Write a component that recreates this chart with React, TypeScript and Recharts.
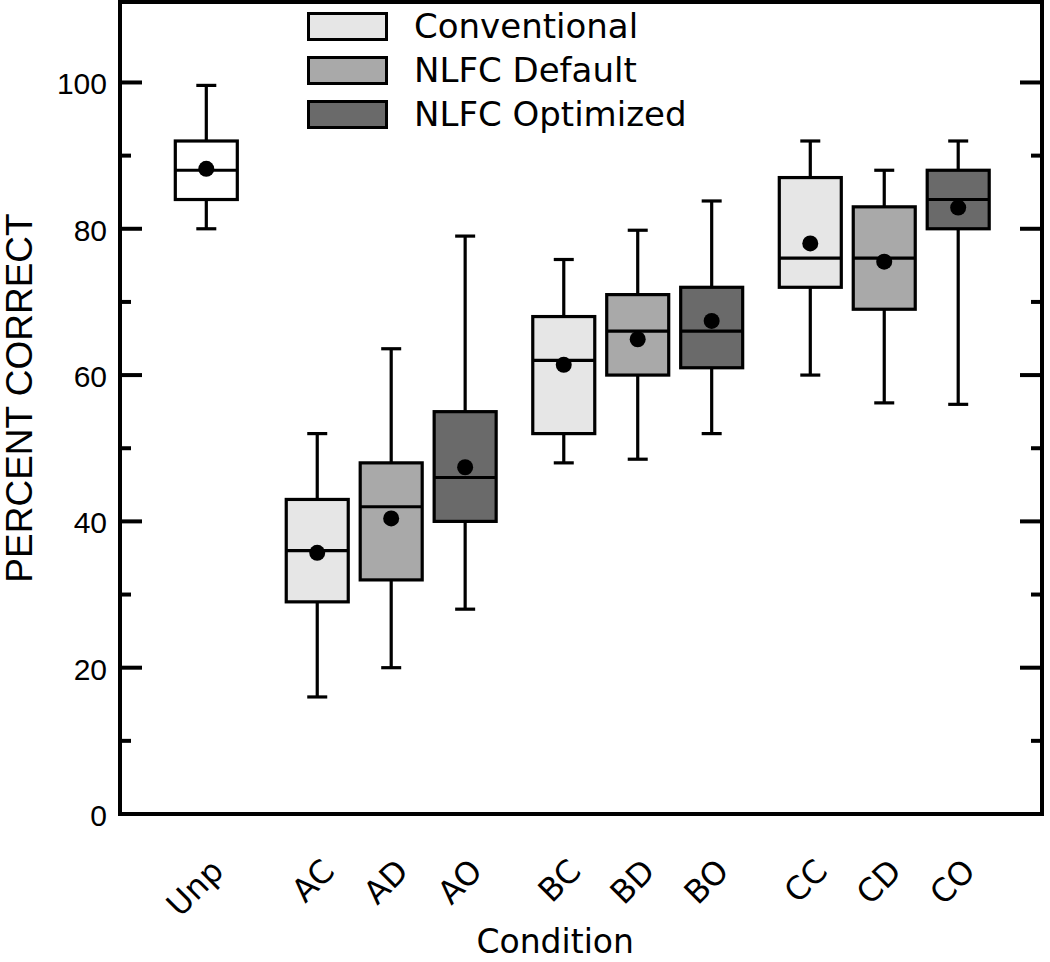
import React from "react";
import {
  ComposedChart,
  Bar,
  Cell,
  Scatter,
  XAxis,
  YAxis,
  ReferenceArea,
  Legend,
} from "recharts";

// conditions along the x axis, with their slot positions (groups of three, gaps between)
const conditions = ["Unp", "AC", "AD", "AO", "BC", "BD", "BO", "CC", "CD", "CO"];
const positions = [0, 4.5, 7.5, 10.5, 14.5, 17.5, 20.5, 24.5, 27.5, 30.5];
const processing = [
  "Unprocessed",
  "Conventional", "NLFC Default", "NLFC Optimized",
  "Conventional", "NLFC Default", "NLFC Optimized",
  "Conventional", "NLFC Default", "NLFC Optimized",
];

// box plot stats, percent correct
const minVals = [80, 16, 20, 28, 48, 48.5, 52, 60, 56.2, 56];
const q1Vals = [84, 29, 32, 40, 52, 60, 61, 72, 69, 80];
const medianVals = [88, 36, 42, 46, 62, 66, 66, 76, 76, 84];
const q3Vals = [92, 43, 48, 55, 68, 71, 72, 87, 83, 88];
const maxVals = [99.6, 52, 63.6, 79, 75.8, 79.8, 83.8, 92, 88, 92];
const meanVals = [88.2, 35.7, 40.4, 47.4, 61.4, 64.9, 67.4, 78, 75.5, 82.9];

const yTicks = [0, 10, 20, 30, 40, 50, 60, 70, 80, 90, 100];
const legendNames = ["Conventional", "NLFC Default", "NLFC Optimized"];

const fills: Record<string, string> = {
  Unprocessed: "#ffffff",
  Conventional: "#e6e6e6",
  "NLFC Default": "#a9a9a9",
  "NLFC Optimized": "#6a6a6a",
};

const rows = conditions.map((name, i) => ({
  name,
  pos: positions[i],
  group: processing[i],
  min: minVals[i],
  q1: q1Vals[i],
  median: medianVals[i],
  q3: q3Vals[i],
  max: maxVals[i],
  mean: meanVals[i],
  box: [q1Vals[i], q3Vals[i]],
}));

const LABEL_FONT = "'DejaVu Sans', sans-serif";
const NUM_FONT = "'Liberation Sans', Arial, sans-serif";

function BoxShape(props: any) {
  const { x, y, width, height, payload, fill } = props;
  if (!payload) return null;
  const cx = x + width / 2;
  const top = Math.min(y, y + height);
  const h = Math.abs(height);
  const perUnit = h / (payload.q3 - payload.q1);
  const yOf = (v: number) => top + (payload.q3 - v) * perUnit;
  const yMax = yOf(payload.max);
  const yMin = yOf(payload.min);
  const yMed = yOf(payload.median);
  const bw = 62;
  return (
    <g stroke="#000" strokeWidth={3.2}>
      <line x1={cx} x2={cx} y1={yMax} y2={top} />
      <line x1={cx} x2={cx} y1={top + h} y2={yMin} />
      <line x1={cx - 10} x2={cx + 10} y1={yMax} y2={yMax} />
      <line x1={cx - 10} x2={cx + 10} y1={yMin} y2={yMin} />
      <rect x={cx - bw / 2} y={top} width={bw} height={h} fill={fill} />
      <line x1={cx - bw / 2} x2={cx + bw / 2} y1={yMed} y2={yMed} />
    </g>
  );
}

function MeanDot(props: any) {
  const { cx, cy } = props;
  return <circle cx={cx} cy={cy} r={8} fill="#000" />;
}

function LeftTick(props: any) {
  const { x, y, payload } = props;
  const major = payload.value % 20 === 0;
  return (
    <g>
      <line x1={x} x2={x + (major ? 22 : 11)} y1={y} y2={y} stroke="#000" strokeWidth={4} />
      {major && (
        <text x={x - 13} y={y + 12} textAnchor="end" fontFamily={NUM_FONT} fontSize={30} fill="#000">
          {payload.value}
        </text>
      )}
    </g>
  );
}

function RightTick(props: any) {
  const { x, y, payload } = props;
  const major = payload.value % 20 === 0;
  return <line x1={x} x2={x - (major ? 22 : 11)} y1={y} y2={y} stroke="#000" strokeWidth={4} />;
}

function XTick(props: any) {
  const { x, y, payload } = props;
  const idx = positions.indexOf(payload.value);
  const ax = x + 19;
  const ay = y + 59;
  return (
    <text
      x={ax}
      y={ay}
      textAnchor="end"
      transform={`rotate(-45 ${ax} ${ay})`}
      fontFamily={LABEL_FONT}
      fontSize={32}
      fill="#000"
    >
      {conditions[idx]}
    </text>
  );
}

function YLabel(props: any) {
  const vb = props.viewBox || { x: 0, y: 2, width: 120, height: 812 };
  const lx = vb.x + 19;
  const ly = vb.y + vb.height / 2 - 10;
  return (
    <text
      x={lx}
      y={ly}
      transform={`rotate(-90 ${lx} ${ly})`}
      textAnchor="middle"
      dominantBaseline="central"
      fontFamily={NUM_FONT}
      fontSize={37}
      fill="#000"
    >
      PERCENT CORRECT
    </text>
  );
}

function XLabel(props: any) {
  const vb = props.viewBox || { x: 120, y: 814, width: 926, height: 148 };
  const lx = vb.x + vb.width * 0.472;
  const ly = vb.y + vb.height - 9;
  return (
    <text x={lx} y={ly} textAnchor="middle" fontFamily={LABEL_FONT} fontSize={33} fill="#000">
      Condition
    </text>
  );
}

function LegendBox() {
  return (
    <div style={{ fontFamily: LABEL_FONT, fontSize: 34, color: "#000" }}>
      {legendNames.map((n) => (
        <div key={n} style={{ display: "flex", alignItems: "center", height: 44 }}>
          <div
            style={{
              boxSizing: "border-box",
              width: 81,
              height: 29,
              border: "3px solid #000",
              background: fills[n],
            }}
          />
          <span style={{ marginLeft: 26, lineHeight: "44px", whiteSpace: "nowrap" }}>{n}</span>
        </div>
      ))}
    </div>
  );
}

export default function App() {
  return (
    <div style={{ position: "absolute", left: 0, top: 0, width: 1050, height: 962, background: "#fff" }}>
      <ComposedChart
        width={1050}
        height={962}
        data={rows}
        margin={{ top: 2, right: 4, bottom: 0, left: 0 }}
      >
        <XAxis
          dataKey="pos"
          type="number"
          domain={[-3.5, 33.9]}
          allowDataOverflow
          ticks={positions}
          interval={0}
          tick={<XTick />}
          tickSize={0}
          tickMargin={0}
          tickLine={false}
          axisLine={false}
          height={148}
          label={<XLabel />}
        />
        <YAxis
          type="number"
          domain={[0, 111]}
          allowDataOverflow
          ticks={yTicks}
          interval={0}
          tick={<LeftTick />}
          tickSize={0}
          tickMargin={0}
          tickLine={false}
          axisLine={false}
          width={120}
          label={<YLabel />}
        />
        <YAxis
          yAxisId="r"
          orientation="right"
          type="number"
          domain={[0, 111]}
          allowDataOverflow
          ticks={yTicks}
          interval={0}
          tick={<RightTick />}
          tickSize={0}
          tickMargin={0}
          tickLine={false}
          axisLine={false}
          width={4}
        />
        <Legend
          layout="vertical"
          align="center"
          verticalAlign="middle"
          content={() => <LegendBox />}
          wrapperStyle={{ position: "absolute", left: 307, top: 4, width: 440 }}
        />
        <Bar dataKey="box" barSize={62} shape={<BoxShape />} isAnimationActive={false}>
          {rows.map((r) => (
            <Cell key={r.name} fill={fills[r.group]} />
          ))}
        </Bar>
        <Scatter dataKey="mean" shape={<MeanDot />} isAnimationActive={false} />
        <ReferenceArea
          x1={-3.5}
          x2={33.9}
          y1={0}
          y2={111}
          fill="none"
          stroke="#000"
          strokeWidth={4}
          ifOverflow="visible"
        />
      </ComposedChart>
    </div>
  );
}
